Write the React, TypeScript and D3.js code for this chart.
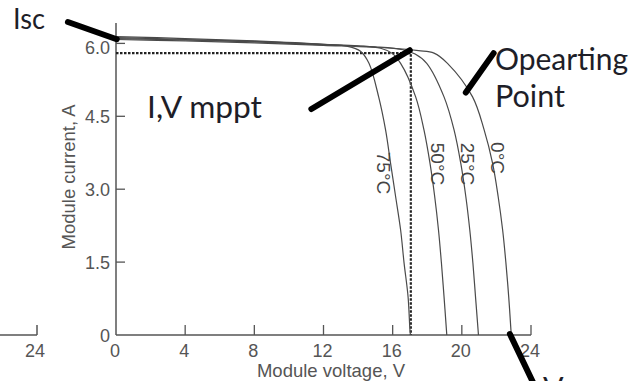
import React from "react";
import * as d3 from "d3";

type Pt = [number, number];

// I-V curves (Module voltage V, Module current A)
const curve75: Pt[] = [[0,6.14],[4,6.1],[8,6.05],[12,5.98],[13.4,5.94],[14.14,5.84],[14.63,5.59],[15.19,4.9],[15.59,4.22],[15.88,3.53],[16.17,2.85],[16.46,2.16],[16.66,1.48],[16.89,0.79],[17.0,0.1],[17.03,0]];
const curve50: Pt[] = [[0,6.12],[4,6.08],[8,6.04],[12,5.98],[14,5.95],[15.3,5.9],[15.95,5.8],[16.46,5.59],[17.33,4.9],[17.81,4.22],[18.16,3.53],[18.43,2.85],[18.65,2.16],[18.82,1.48],[18.97,0.79],[19.11,0.1],[19.13,0]];
const curve25: Pt[] = [[0,6.1],[4,6.07],[8,6.03],[12,5.97],[15,5.93],[16.6,5.87],[17.3,5.78],[17.97,5.59],[18.97,4.9],[19.55,4.22],[19.94,3.53],[20.23,2.85],[20.46,2.16],[20.64,1.48],[20.79,0.79],[20.94,0.1],[20.96,0]];
const curve0: Pt[] = [[0,6.08],[4,6.05],[8,6.01],[12,5.96],[16,5.9],[17.5,5.85],[18.39,5.8],[19.17,5.59],[20.62,4.9],[21.29,4.22],[21.78,3.53],[22.1,2.85],[22.36,2.16],[22.55,1.48],[22.71,0.79],[22.84,0.1],[22.86,0]];
const curves = [curve75, curve50, curve25, curve0];
const tempLabels = ["75°C", "50°C", "25°C", "0°C"];

const xTicks = [0, 4, 8, 12, 16, 20, 24];
const yTicks = [0, 1.5, 3.0, 4.5, 6.0];
const yTickLabels = ["0", "1.5", "3.0", "4.5", "6.0"];

// maximum power point (V, I)
const mpp: Pt = [17.05, 5.8];

// annotation pointers in data units
const iscPointer: Pt[] = [[-2.78, 6.44], [0.04, 6.085]];
const mppPointer: Pt[] = [[11.3, 4.65], [16.99, 5.86]];
const opPointer: Pt[] = [[20.23, 4.99], [21.84, 5.8]];
const vocPointer: Pt[] = [[22.78, 0.02], [24.46, -1.23]];

export default function App() {
  const x = d3.scaleLinear().domain([0, 24]).range([116, 531]);
  const y = d3.scaleLinear().domain([0, 6]).range([335, 43.4]);
  const line = d3.line<Pt>().x(d => x(d[0])).y(d => y(d[1])).curve(d3.curveCatmullRom.alpha(0.5));
  const straight = d3.line<Pt>().x(d => x(d[0])).y(d => y(d[1]));

  const axisColor = "#555";
  const tickFont = "'Liberation Sans', Arial, sans-serif";
  const annFont = "Lato, 'Liberation Sans', sans-serif";
  const annColor = "#1e1e28";

  const labelPos: Pt[] = [[383, 173], [437, 164], [467.5, 164], [497.5, 158]];

  return (
    <svg width={632} height={381} style={{ position: "absolute", left: 0, top: 0, background: "#fff" }}>
      <rect width={632} height={381} fill="#fff" />
      {/* stub from neighbouring chart */}
      <line x1={0} y1={335} x2={37} y2={335} stroke={axisColor} strokeWidth={1.5} />
      <line x1={37} y1={325} x2={37} y2={335} stroke={axisColor} strokeWidth={1.5} />
      <text x={35} y={357} textAnchor="middle" fontFamily={tickFont} fontSize={18} fill={axisColor}>24</text>

      {/* axes */}
      <line x1={x(0)} y1={23} x2={x(0)} y2={y(0)} stroke={axisColor} strokeWidth={1.5} />
      <line x1={x(0)} y1={y(0)} x2={x(24)} y2={y(0)} stroke={axisColor} strokeWidth={1.5} />
      {xTicks.map(t => (
        <g key={"x" + t}>
          {t > 0 && <line x1={x(t)} y1={y(0) - 10} x2={x(t)} y2={y(0)} stroke={axisColor} strokeWidth={1.3} />}
          <text x={x(t) - 1} y={357} textAnchor="middle" fontFamily={tickFont} fontSize={18} fill={axisColor}>{t}</text>
        </g>
      ))}
      {yTicks.map((t, i) => (
        <g key={"y" + t}>
          {t > 0 && <line x1={x(0)} y1={y(t)} x2={x(0) + 9} y2={y(t)} stroke={axisColor} strokeWidth={1.3} />}
          <text x={110} y={y(t) + (t === 6 ? 5 : 1)} textAnchor="end" dominantBaseline="central" fontFamily={tickFont} fontSize={18} fill={axisColor}>{yTickLabels[i]}</text>
        </g>
      ))}
      <text x={331} y={377} textAnchor="middle" fontFamily={tickFont} fontSize={18.5} fill={axisColor}>Module voltage, V</text>
      <text transform="translate(75,177) rotate(-90)" textAnchor="middle" fontFamily={tickFont} fontSize={18.5} fill={axisColor}>Module current, A</text>

      {/* mpp dotted guides */}
      <path d={straight([[0, mpp[1]], mpp, [mpp[0], 0]]) || ""} fill="none" stroke="#222" strokeWidth={2.2} strokeDasharray="2.5,1.5" />

      {/* curves */}
      {curves.map((c, i) => (
        <path key={i} d={line(c) || ""} fill="none" stroke="#4a4a4a" strokeWidth={1.2} />
      ))}
      {tempLabels.map((l, i) => (
        <text key={l} transform={`translate(${labelPos[i][0]},${labelPos[i][1]}) rotate(90)`} textAnchor="middle" dominantBaseline="central" fontFamily={tickFont} fontSize={19} fill="#444">{l}</text>
      ))}

      {/* annotation pointers */}
      {[iscPointer, mppPointer, opPointer, vocPointer].map((p, i) => (
        <path key={"p" + i} d={straight(p) || ""} stroke="#000" strokeWidth={6} strokeLinecap="round" fill="none" />
      ))}

      {/* annotation texts */}
      <text x={13} y={29} fontFamily={annFont} fontSize={29} fill={annColor} textLength={32} lengthAdjust="spacingAndGlyphs">Isc</text>
      <text x={147} y={118} fontFamily={annFont} fontSize={30} fill={annColor} textLength={115} lengthAdjust="spacingAndGlyphs">I,V mppt</text>
      <text x={495} y={69.5} fontFamily={annFont} fontSize={30} fill={annColor} textLength={133} lengthAdjust="spacingAndGlyphs">Opearting</text>
      <text x={495} y={107} fontFamily={annFont} fontSize={30} fill={annColor} textLength={70} lengthAdjust="spacingAndGlyphs">Point</text>
      <text x={543} y={399} fontFamily={annFont} fontSize={30} fill={annColor} textLength={50} lengthAdjust="spacingAndGlyphs">Voc</text>
    </svg>
  );
}
